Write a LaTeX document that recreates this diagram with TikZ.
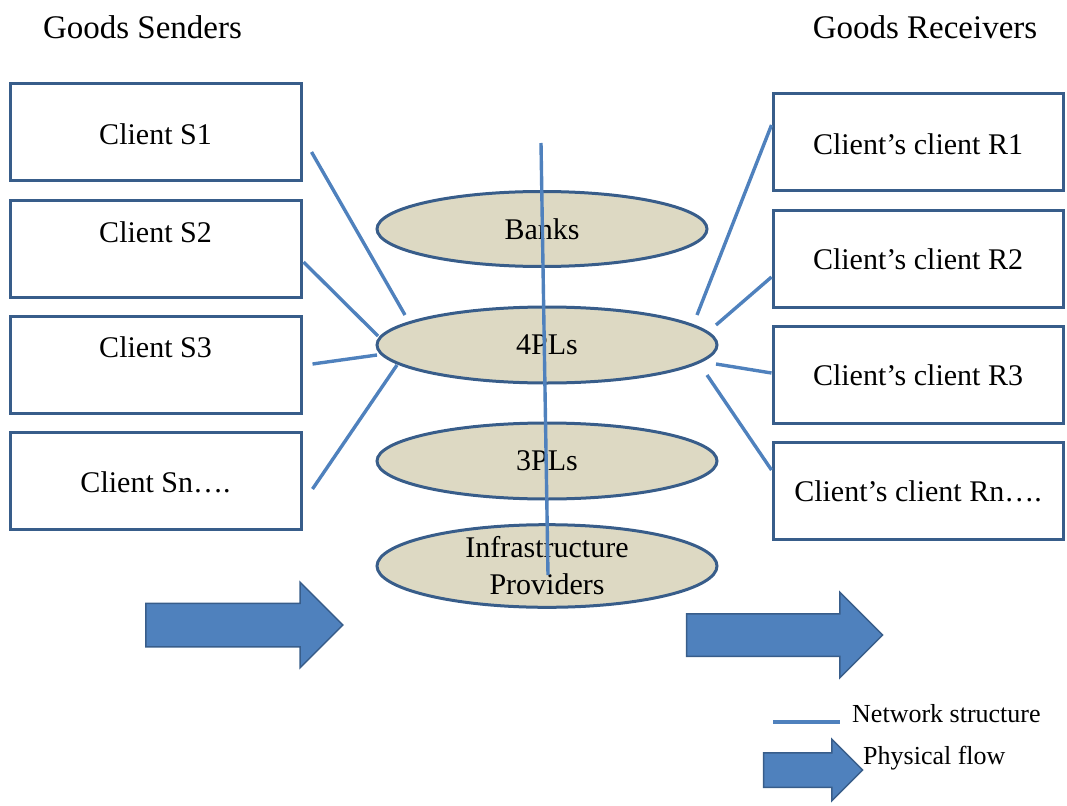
\documentclass[tikz,border=0pt]{standalone}
\usepackage{fontspec}
\setmainfont{Liberation Serif}
\usetikzlibrary{calc,positioning,shapes.geometric,shapes.arrows}

\definecolor{netblue}{HTML}{4F81BD}
\definecolor{edgeblue}{HTML}{385D8A}
\definecolor{tan}{HTML}{DDD9C3}

\newcommand{\up}[2]{\raisebox{#1}[\height][\depth]{#2}}

\tikzset{
  client/.style={draw=edgeblue, line width=3pt, fill=white, minimum width=291pt,
    minimum height=97pt, inner sep=0pt, font=\fontsize{30}{36}\selectfont},
  party/.style={ellipse, draw=edgeblue, line width=3pt, fill=tan, minimum width=340pt,
    minimum height=76pt, inner sep=0pt, align=center, font=\fontsize{30}{36}\selectfont},
  net/.style={draw=netblue, line width=3.4pt},
  flow/.style={single arrow, draw=edgeblue, line width=1.5pt, fill=netblue, inner sep=0pt,
    text depth=0pt, single arrow tip angle=90},
  heading/.style={font=\fontsize{33}{38}\selectfont, inner sep=0pt}
}

\begin{document}
\begin{tikzpicture}[x=1pt, y=-1pt]
    \useasboundingbox (0,0) rectangle (1067,805);

    % titles
    \node[heading] (senders) at (142.5,27) {Goods Senders};
    \node[heading] (receivers) at (925,27) {Goods Receivers};

    % senders
    \node[client] (s1) at (155.5,132.5) {\up{-2pt}{Client S1}};
    \node[client] (s2) at (155.5,248.5) {\up{16pt}{Client S2}};
    \node[client] (s3) at (155.5,364.5) {\up{17pt}{Client S3}};
    \node[client] (s4) at (155.5,480.5) {\up{-2pt}{Client Sn\ldots.}};

    % receivers
    \node[client, minimum width=290pt] (r1) at (918,142) {\up{-2pt}{Client’s client R1}};
    \node[client, minimum width=290pt] (r2) at (918,258.5) {\up{-1pt}{Client’s client R2}};
    \node[client, minimum width=290pt] (r3) at (918,374.5) {\up{-1pt}{Client’s client R3}};
    \node[client, minimum width=290pt] (r4) at (918,490.5) {\up{-1pt}{Client’s client Rn\ldots.}};

    % service layers
    \node[party, minimum width=330pt, minimum height=75pt] (banks) at (542,229) {Banks};
    \node[party] (pl4) at (547,345) {4PLs};
    \node[party] (pl3) at (547,461) {3PLs};
    \node[party] (infra) at (547,566) {Infrastructure\\[1pt]Providers};

    % network
    \coordinate (vtop) at (541,143);
    \coordinate (vbot) at (548,575);
    \draw[net] (vtop) -- (vbot);

    \draw[net] ($(s1.east)+(9,19.5)$) -- ($(pl4.center)+(-142,-30)$);
    \draw[net] ($(s2.east)+(1,13.5)$) -- ($(pl4.center)+(-169,-9)$);
    \draw[net] ($(s3.east)+(10,-0.5)$) -- ($(pl4.center)+(-170,10)$);
    \draw[net] ($(s4.east)+(10,8.5)$) -- ($(pl4.center)+(-150,20)$);

    \draw[net] ($(pl4.center)+(150,-30)$) -- ($(r1.west)+(0,-17)$);
    \draw[net] ($(pl4.center)+(169,-20)$) -- ($(r2.west)+(0,18.5)$);
    \draw[net] ($(pl4.center)+(169,19)$) -- ($(r3.west)+(0,-1.5)$);
    \draw[net] ($(pl4.center)+(160,30)$) -- ($(r4.west)+(0,-20.5)$);

    % physical flow
    \node[flow, minimum height=197pt, text height=42pt, single arrow head extend=21pt] (inflow) at (233.5,625) {};
    \node[flow, minimum height=196pt, text height=41pt, single arrow head extend=21.5pt] (outflow) at (774,635) {};

    % legend
    \coordinate (keyA) at (773,722);
    \coordinate (keyB) at (840,722);
    \draw[net] (keyA) -- (keyB);
    \node[font=\fontsize{26}{30}\selectfont, anchor=west, inner sep=0pt] (netkey) at (852,714) {Network structure};
    \node[flow, minimum height=99pt, text height=33pt, single arrow head extend=13.5pt] (flowarrow) at (804.5,770) {};
    \node[font=\fontsize{26}{30}\selectfont, anchor=west, inner sep=0pt] (flowkey) at (863,758) {Physical flow};
\end{tikzpicture}
\end{document}
